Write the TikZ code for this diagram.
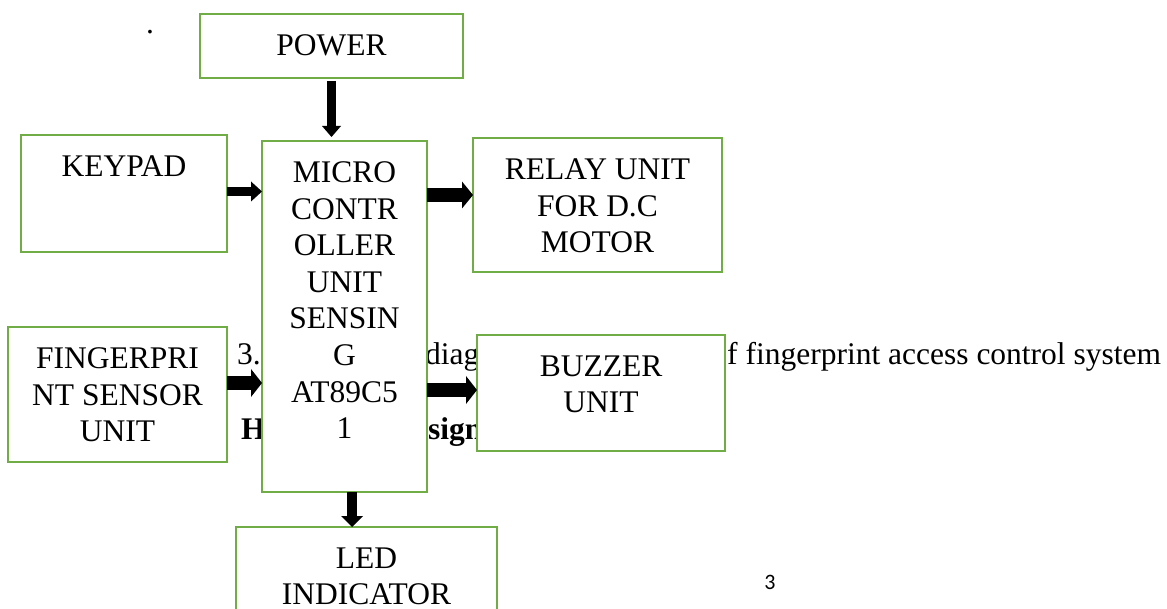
\documentclass[tikz,border=0pt]{standalone}
\usepackage{fontspec}
\setmainfont{Liberation Serif}
\newfontfamily\pagenumfont{Carlito}
\usetikzlibrary{arrows.meta}
\definecolor{boxgreen}{RGB}{112,173,71}

\begin{document}
\begin{tikzpicture}[
    x=1pt, y=-1pt,
    block/.style={rectangle, draw=boxgreen, line width=2.5pt, fill=white, inner sep=0pt, outer sep=0pt},
    blocktext/.style={anchor=north, align=center, inner sep=0pt, font=\fontsize{31.5}{36.6}\selectfont},
    pagetext/.style={anchor=base west, inner sep=0pt, font=\fontsize{31.5}{36.6}\selectfont},
    flow/.style 2 args={line width=#1, -{Triangle[line width=0pt, width=#2, length=11pt]}}
]
\useasboundingbox (0,0) rectangle (1167,609);
\clip (0,0) rectangle (1167,609);

% Texte de la page derriere le schema
\node[pagetext] (dot) at (146,33.6) {.};
\node[pagetext] (capnum) at (237,365) {3.};
\node[pagetext] (capmid) at (425,365) {diagram};
\node[pagetext] (captail) at (727,365) {f fingerprint access control system};
\node[pagetext, font=\fontsize{31.5}{36.6}\selectfont\bfseries] (head) at (241,439) {H};
\node[pagetext, font=\fontsize{31.5}{36.6}\selectfont\bfseries] (headtail) at (428,439) {sign};
\node[inner sep=0pt, font=\pagenumfont\fontsize{22}{26}\selectfont] (pagenum) at (770,582) {3};

% Blocs
\node[block, minimum width=263pt, minimum height=64pt] (power) at (331.5,46) {};
\node[block, minimum width=206pt, minimum height=117pt] (keypad) at (124,193.5) {};
\node[block, minimum width=165pt, minimum height=351pt] (micro) at (344.5,316.5) {};
\node[block, minimum width=249pt, minimum height=134pt] (relay) at (597.5,205) {};
\node[block, minimum width=248pt, minimum height=116pt] (buzzer) at (601,393) {};
\node[block, minimum width=219pt, minimum height=135pt] (finger) at (117.5,394.5) {};
\node[block, minimum width=261pt, minimum height=130pt] (led) at (366.5,592) {};

% Textes des blocs
\node[blocktext] at ([yshift=-20.5pt]power.north) {POWER};
\node[blocktext] at ([yshift=-20.5pt]keypad.north) {KEYPAD};
\node[blocktext] at ([yshift=-20.5pt]micro.north) {MICRO\\CONTR\\OLLER\\UNIT\\SENSIN\\G\\AT89C5\\1};
\node[blocktext] at ([yshift=-20.5pt]relay.north) {RELAY UNIT\\FOR D.C\\MOTOR};
\node[blocktext] at ([yshift=-20.5pt]buzzer.north) {BUZZER\\UNIT};
\node[blocktext] at ([yshift=-20.5pt]finger.north) {FINGERPRI\\NT SENSOR\\UNIT};
\node[blocktext] at ([yshift=-20.5pt]led.north) {LED\\INDICATOR};

% Fleches
\draw[flow={9pt}{19pt}] ([yshift=-3pt]power.south) -- ([yshift=4pt]power.south |- micro.north);
\draw[flow={9pt}{20pt}] ([yshift=2pt]keypad.east) -- ([yshift=2pt]keypad.east -| micro.west);
\draw[flow={14pt}{28pt}] ([yshift=11.5pt]finger.east) -- ([yshift=11.5pt]finger.east -| micro.west);
\draw[flow={14pt}{27pt}] ([yshift=10pt]relay.west -| micro.east) -- ([yshift=10pt]relay.west);
\draw[flow={14pt}{28pt}] ([yshift=3pt]buzzer.west -| micro.east) -- ([yshift=3pt]buzzer.west);
\draw[flow={10pt}{22pt}] ([xshift=7.5pt]micro.south) -- ([xshift=7.5pt]micro.south |- led.north);

\end{tikzpicture}
\end{document}
